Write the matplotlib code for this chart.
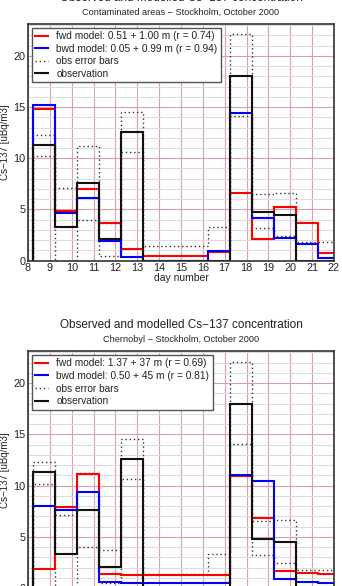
import numpy as np
import matplotlib
matplotlib.use("Agg")
import matplotlib.pyplot as plt
from matplotlib.lines import Line2D
from matplotlib.ticker import MultipleLocator

plt.rcParams['font.family'] = ['Liberation Sans', 'DejaVu Sans']

# bin edges (day number), one value per day interval
edges = [8.25, 9.25, 10.25, 11.25, 12.25, 13.25, 14.25, 15.25, 16.25,
         17.25, 18.25, 19.25, 20.25, 21.25, 22.25]

# observations (same for both panels)
obs = [11.3, 3.3, 7.6, 2.1, 12.6, 0, 0, 0, 0, 18.0, 4.8, 4.5, 0, 0]
obs_hi = [12.3, 7.1, 11.2, 3.7, 14.5, 1.4, 1.4, 1.4, 3.3, 22.1, 6.5, 6.6, 1.8, 1.8]
obs_lo = [10.2, 0, 4.0, 0.5, 10.6, 0, 0, 0, 0, 14.1, 3.2, 2.4, 0, 0]

# contaminated areas - Stockholm
fwd_cont = [14.8, 4.9, 7.0, 3.7, 1.1, 0.5, 0.5, 0.5, 0.85, 6.6, 2.1, 5.2, 3.7, 0.8]
bwd_cont = [15.2, 4.7, 6.1, 1.9, 0.35, 0.02, 0.02, 0.02, 0.9, 14.4, 4.2, 2.2, 1.6, 0.25]
lab_cont = ["fwd model: 0.51 + 1.00 m (r = 0.74)", "bwd model: 0.05 + 0.99 m (r = 0.94)"]

# Chernobyl - Stockholm
fwd_cher = [1.9, 7.9, 11.1, 1.4, 1.3, 1.3, 1.3, 1.3, 1.3, 10.9, 6.8, 1.7, 1.45, 1.35]
bwd_cher = [8.0, 7.6, 9.4, 0.6, 0.45, 0.45, 0.45, 0.45, 0.45, 11.0, 10.4, 0.9, 0.6, 0.45]
lab_cher = ["fwd model: 1.37 + 37 m (r = 0.69)", "bwd model: 0.50 + 45 m (r = 0.81)"]

title = "Observed and modelled Cs\u2212137 concentration"
subtitles = ["Contaminated areas \u2212 Stockholm, October 2000",
             "Chernobyl \u2212 Stockholm, October 2000"]

txt = '#222222'
fig = plt.figure(figsize=(3.42, 5.86), dpi=100)
ax1 = fig.add_axes([0.0819, 0.5551, 0.8947, 0.4039])
ax2 = fig.add_axes([0.0819, -0.0035, 0.8947, 0.4039])

panels = [(ax1, fwd_cont, bwd_cont, lab_cont, subtitles[0]),
          (ax2, fwd_cher, bwd_cher, lab_cher, subtitles[1])]

for ax, fwd, bwd, labs, sub in panels:
    ax.set_xlim(8, 22)
    ax.set_ylim(0, 23.1)
    ax.xaxis.set_major_locator(MultipleLocator(1))
    ax.yaxis.set_major_locator(MultipleLocator(5))
    ax.yaxis.set_minor_locator(MultipleLocator(1))
    ax.grid(True, which='major', axis='x', color='#d3a3a8', lw=0.8)
    ax.grid(True, which='major', axis='y', color='#d3a3a8', lw=0.8)
    ax.grid(True, which='minor', axis='y', color='#dcdcdc', lw=0.8)
    ax.set_axisbelow(True)

    ax.stairs(obs_hi, edges, color='#333333', lw=1.0, ls=(0, (1, 2)))
    ax.stairs(obs_lo, edges, color='#333333', lw=1.0, ls=(0, (1, 2)))
    ax.stairs(fwd, edges, color='red', lw=1.5)
    ax.stairs(bwd, edges, color='blue', lw=1.5)
    ax.stairs(obs, edges, color='#111111', lw=1.5)

    for s in ax.spines.values():
        s.set_color('#333333')
        s.set_linewidth(1.2)
    ax.tick_params(which='both', length=0, labelsize=7.8, colors=txt, pad=2)
    ax.set_ylabel("Cs\u2212137 [uBq/m3]", fontsize=7, color=txt, labelpad=2)
    ax.set_xlabel("day number", fontsize=7.5, color=txt, labelpad=0)

    ax.text(0.5, 1.0 + 26 / 236.0, title, transform=ax.transAxes,
            ha='center', va='center', fontsize=8.5, color=txt)
    ax.text(0.5, 1.0 + 12 / 236.0, sub, transform=ax.transAxes,
            ha='center', va='center', fontsize=6.6, color=txt)

    handles = [Line2D([], [], color='red', lw=1.5),
               Line2D([], [], color='blue', lw=1.5),
               Line2D([], [], color='#333333', lw=1.0, ls=(0, (1, 2))),
               Line2D([], [], color='#111111', lw=1.5)]
    leg = ax.legend(handles, labs + ["obs error bars", "observation"],
                    loc='upper left', fontsize=7.3, fancybox=False,
                    framealpha=1, edgecolor='#555555', borderpad=0.35,
                    labelspacing=0.25, handlelength=1.3, handletextpad=0.8,
                    borderaxespad=0.35)
    leg.get_frame().set_linewidth(1.0)
    for t in leg.get_texts():
        t.set_color(txt)

fig.savefig("out.png", dpi=100)
